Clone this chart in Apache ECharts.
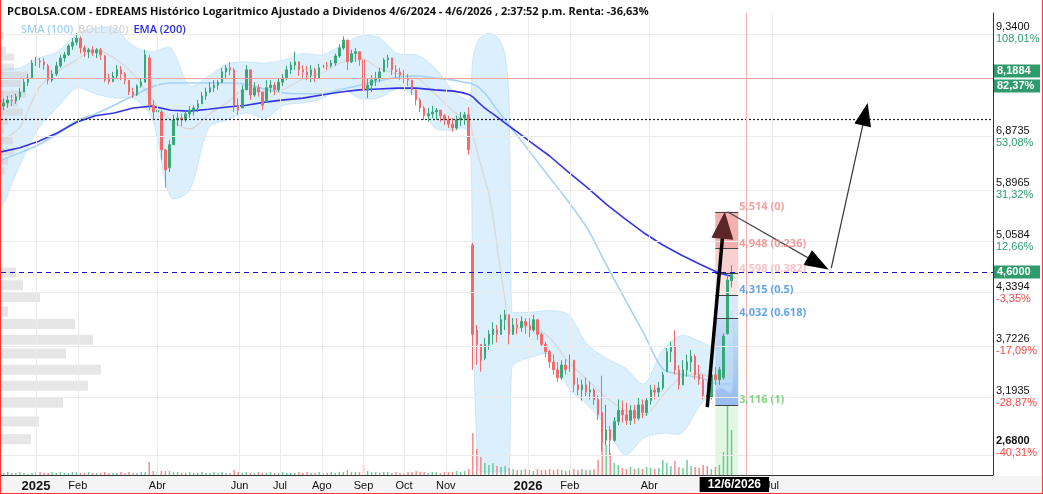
<!DOCTYPE html>
<html><head><meta charset="utf-8">
<script src="https://cdn.jsdelivr.net/npm/echarts@6/dist/echarts.min.js"></script>
<style>
html,body{margin:0;padding:0;background:#fff;}
#wrap{position:relative;width:1043px;height:494px;overflow:hidden;}
#c{position:absolute;left:0;top:0;width:1043px;height:494px;}
#frame{position:absolute;left:0;top:0;width:1043px;height:494px;box-sizing:border-box;border-left:1px solid #f33;border-right:1px solid #f33;border-bottom:1px solid #f33;pointer-events:none;}
</style></head><body>
<div id="wrap"><div id="c"></div><div id="frame"></div></div>
<script>
// ---------------- DATA ----------------
const titleText = 'PCBOLSA.COM - EDREAMS Histórico Logaritmico Ajustado a Dividenos 4/6/2024 - 4/6/2026 , 2:37:52 p.m. Renta: -36,63%';
const xAxisMinDate = '2024-12-06';
const xAxisMaxDate = '2026-12-12';
const yAxisMinPrice = 2.537;
const yAxisMaxPrice = 9.91;
const xTickDates = ['2025-01-01','2025-02-01','2025-04-01','2025-06-01','2025-07-01','2025-08-01','2025-09-01','2025-10-01','2025-11-01','2026-01-01','2026-02-01','2026-04-01','2026-07-01'];
const monthNames = ['Ene','Feb','Mar','Abr','May','Jun','Jul','Ago','Sep','Oct','Nov','Dic'];
const yTickPrices = [9.34, 6.8735, 5.8965, 5.0584, 4.3394, 3.7226, 3.1935, 2.68];
const yTickPct = ['108,01%','53,08%','31,32%','12,66%','-3,35%','-17,09%','-28,87%','-40,31%'];

// candles: [date, open, close, low, high]
const candles = [
['2024-12-08',7.53,7.60,7.44,7.71],['2024-12-11',7.60,7.67,7.49,7.76],['2024-12-14',7.67,7.65,7.53,7.78],['2024-12-17',7.65,7.74,7.58,7.81],
['2024-12-20',7.74,7.85,7.67,7.95],['2024-12-23',7.85,8.08,7.85,8.18],['2024-12-26',8.08,8.18,7.99,8.28],['2024-12-29',8.18,8.55,8.18,8.63],
['2025-01-01',8.55,8.60,8.48,8.71],['2025-01-04',8.60,8.58,8.43,8.68],['2025-01-07',8.58,8.50,8.38,8.68],['2025-01-10',8.48,8.13,8.03,8.53],
['2025-01-13',8.13,8.28,8.08,8.38],['2025-01-16',8.28,8.48,8.23,8.58],['2025-01-19',8.48,8.68,8.43,8.76],['2025-01-22',8.68,8.76,8.58,8.84],
['2025-01-25',8.76,8.99,8.73,9.04],['2025-01-28',8.99,9.09,8.89,9.20],['2025-01-31',9.09,9.20,9.01,9.34],['2025-02-03',9.20,8.94,8.79,9.25],
['2025-02-06',8.94,8.84,8.71,9.01],['2025-02-09',8.84,8.89,8.68,8.94],['2025-02-12',8.89,8.81,8.73,8.99],['2025-02-15',8.81,8.89,8.68,8.94],
['2025-02-18',8.89,8.76,8.63,8.94],['2025-02-21',8.73,8.13,8.08,8.76],['2025-02-24',8.18,8.10,8.03,8.28],['2025-02-27',8.10,8.23,8.08,8.33],
['2025-03-02',8.23,8.38,8.18,8.50],['2025-03-05',8.38,8.28,8.13,8.48],['2025-03-08',8.28,8.13,8.03,8.33],['2025-03-11',8.13,7.85,7.78,8.13],
['2025-03-14',7.85,7.78,7.71,7.95],['2025-03-17',7.78,7.99,7.76,8.03],['2025-03-20',7.99,8.08,7.95,8.18],['2025-03-23',8.08,8.76,8.08,8.89],
['2025-03-26',8.68,7.55,7.44,8.76],['2025-03-29',7.55,7.40,7.23,7.67],['2025-04-01',7.40,7.44,7.27,7.58],['2025-04-04',7.40,6.62,6.42,7.44],
['2025-04-07',6.62,6.24,5.92,6.62],['2025-04-10',6.28,6.72,6.20,6.81],['2025-04-13',6.72,7.23,6.72,7.34],['2025-04-16',7.23,7.27,7.10,7.38],
['2025-04-19',7.27,7.23,7.10,7.36],['2025-04-22',7.23,7.36,7.19,7.44],['2025-04-25',7.36,7.44,7.27,7.53],['2025-04-28',7.44,7.49,7.32,7.55],
['2025-05-01',7.49,7.58,7.40,7.67],['2025-05-04',7.58,7.76,7.58,7.85],['2025-05-07',7.76,7.85,7.67,7.95],['2025-05-10',7.85,7.95,7.83,8.08],
['2025-05-13',7.95,8.01,7.85,8.13],['2025-05-16',8.01,8.08,7.90,8.13],['2025-05-19',8.08,8.33,8.06,8.43],['2025-05-22',8.33,8.43,8.18,8.50],
['2025-05-25',8.43,8.38,8.25,8.58],['2025-05-28',8.38,7.55,7.40,8.43],['2025-05-31',7.55,7.44,7.34,7.71],['2025-06-03',7.49,7.90,7.49,8.01],
['2025-06-06',7.90,8.38,7.90,8.50],['2025-06-09',8.38,7.78,7.67,8.38],['2025-06-12',7.78,7.95,7.74,8.08],['2025-06-15',7.95,7.85,7.74,8.03],
['2025-06-18',7.85,7.55,7.44,7.85],['2025-06-21',7.62,7.95,7.62,8.13],['2025-06-24',7.95,8.01,7.83,8.13],['2025-06-27',8.01,7.90,7.78,8.08],
['2025-06-30',7.90,8.08,7.85,8.18],['2025-07-03',8.08,8.18,7.99,8.28],['2025-07-06',8.18,8.38,8.13,8.48],['2025-07-09',8.38,8.50,8.28,8.58],
['2025-07-12',8.50,8.58,8.38,8.84],['2025-07-15',8.58,8.38,8.23,8.58],['2025-07-18',8.38,8.33,8.18,8.50],['2025-07-21',8.33,8.25,8.13,8.48],
['2025-07-24',8.25,8.38,8.08,8.50],['2025-07-27',8.38,8.18,8.08,8.43],['2025-07-30',8.18,8.43,8.18,8.53],['2025-08-02',8.43,8.50,8.33,8.63],
['2025-08-05',8.50,8.48,8.38,8.58],['2025-08-08',8.48,8.55,8.43,8.63],['2025-08-11',8.55,8.73,8.48,8.79],['2025-08-14',8.73,8.94,8.68,9.04],
['2025-08-17',8.94,9.15,8.89,9.25],['2025-08-20',9.15,8.58,8.38,9.15],['2025-08-23',8.58,8.79,8.55,8.89],['2025-08-26',8.79,8.84,8.58,8.94],
['2025-08-29',8.84,8.63,8.48,8.84],['2025-09-01',8.63,7.90,7.62,8.68],['2025-09-04',7.90,8.01,7.71,8.18],['2025-09-07',8.01,8.13,7.85,8.25],
['2025-09-10',8.13,8.18,7.99,8.33],['2025-09-13',8.18,8.33,8.08,8.43],['2025-09-16',8.33,8.63,8.33,8.68],['2025-09-19',8.63,8.68,8.43,8.76],
['2025-09-22',8.68,8.38,8.25,8.68],['2025-09-25',8.38,8.33,8.18,8.50],['2025-09-28',8.33,8.25,8.13,8.43],['2025-10-01',8.25,8.18,8.06,8.38],
['2025-10-04',8.18,8.13,7.99,8.28],['2025-10-07',8.13,7.90,7.78,8.13],['2025-10-10',7.90,7.67,7.55,7.90],['2025-10-13',7.67,7.49,7.40,7.71],
['2025-10-16',7.49,7.32,7.23,7.53],['2025-10-19',7.32,7.36,7.19,7.49],['2025-10-22',7.36,7.40,7.27,7.53],['2025-10-25',7.40,7.44,7.23,7.49],
['2025-10-28',7.44,7.32,7.19,7.44],['2025-10-31',7.32,7.23,7.12,7.36],['2025-11-03',7.23,7.14,7.06,7.32],['2025-11-06',7.14,7.06,6.98,7.27],
['2025-11-09',7.06,7.23,7.02,7.32],['2025-11-12',7.23,7.27,7.10,7.40],['2025-11-15',7.27,7.34,7.12,7.40],['2025-11-18',7.34,6.62,6.52,7.51],
['2025-11-21',5.00,3.84,3.46,5.03],['2025-11-24',3.89,3.73,3.51,3.95],['2025-11-27',3.73,3.56,3.44,3.73],['2025-11-30',3.58,3.73,3.56,3.80],
['2025-12-03',3.73,3.84,3.67,3.89],['2025-12-06',3.84,3.90,3.73,3.98],['2025-12-09',3.90,3.84,3.75,3.95],['2025-12-12',3.84,4.01,3.84,4.07],
['2025-12-15',4.01,4.07,3.89,4.13],['2025-12-18',4.07,3.84,3.73,4.07],['2025-12-21',3.84,3.95,3.84,4.03],['2025-12-24',3.95,3.92,3.84,4.03],
['2025-12-27',3.92,3.99,3.87,4.05],['2025-12-30',3.99,3.94,3.85,4.03],['2026-01-02',3.94,3.89,3.81,4.03],['2026-01-05',3.89,4.01,3.87,4.07],
['2026-01-08',4.01,3.84,3.78,4.01],['2026-01-11',3.84,3.73,3.70,3.86],['2026-01-14',3.73,3.65,3.59,3.76],['2026-01-17',3.65,3.54,3.48,3.67],
['2026-01-20',3.54,3.46,3.41,3.62],['2026-01-23',3.46,3.38,3.34,3.54],['2026-01-26',3.38,3.51,3.36,3.56],['2026-01-29',3.51,3.46,3.41,3.57],
['2026-02-01',3.46,3.56,3.44,3.62],['2026-02-04',3.56,3.31,3.24,3.56],['2026-02-07',3.31,3.26,3.21,3.38],['2026-02-10',3.26,3.31,3.16,3.36],
['2026-02-13',3.31,3.24,3.20,3.38],['2026-02-16',3.24,3.26,3.17,3.34],['2026-02-19',3.26,3.17,3.12,3.28],['2026-02-22',3.17,3.03,2.98,3.21],
['2026-02-25',3.05,2.80,2.72,3.40],['2026-02-28',2.81,2.90,2.77,3.12],['2026-03-03',2.90,2.81,2.68,2.93],['2026-03-06',2.81,2.97,2.80,3.01],
['2026-03-09',2.97,3.07,2.94,3.17],['2026-03-12',3.07,3.03,2.96,3.16],['2026-03-15',3.03,2.98,2.94,3.14],['2026-03-18',2.98,3.07,2.94,3.12],
['2026-03-21',3.07,3.00,2.95,3.12],['2026-03-24',3.00,3.12,2.98,3.19],['2026-03-27',3.12,3.05,3.00,3.17],['2026-03-30',3.05,3.16,3.02,3.19],
['2026-04-02',3.16,3.26,3.12,3.31],['2026-04-05',3.26,3.24,3.17,3.31],['2026-04-08',3.24,3.28,3.19,3.34],['2026-04-11',3.28,3.41,3.26,3.44],
['2026-04-14',3.44,3.65,3.44,3.69],['2026-04-17',3.65,3.71,3.54,3.76],['2026-04-20',3.71,3.46,3.41,3.89],['2026-04-23',3.46,3.31,3.26,3.51],
['2026-04-26',3.31,3.46,3.31,3.56],['2026-04-29',3.46,3.54,3.39,3.62],['2026-05-02',3.54,3.60,3.44,3.67],['2026-05-05',3.60,3.41,3.36,3.62],
['2026-05-08',3.41,3.36,3.31,3.51],['2026-05-11',3.36,3.21,3.17,3.41],['2026-05-14',3.21,3.19,3.12,3.34],['2026-05-17',3.19,3.41,3.17,3.49],
['2026-05-20',3.41,3.36,3.31,3.49],['2026-05-23',3.36,3.46,3.31,3.49],['2026-05-26',3.38,3.82,3.36,3.85],['2026-05-29',3.85,4.51,3.84,4.58],
['2026-06-01',4.50,4.60,4.41,4.71]
];
const volumes = [2,3,2,2,3,2,1,2,3,3, 2,2,3,2,3,2,2,3,3,2, 2,3,2,2,2,3,2,2,2,3, 2,3,2,2,3,
 3,13,4,3,4,4,4,3,3,2, 2,3,2,2,3,2,2,3,2,3, 2,2,
 5,
 3,2,3,2,2,3,2,2,3,2, 2,3,2,2,2,3,2,3,2,2, 3,2,2,3,2,3,3,
 5,3,3,3,10,
 4,3,3,2,3,3,2,3,2,2, 3,3,4,3,3,2,3,3,2,3, 3,3,4,3,4,
 6,42,26,18,12,10,12,9,8,9,7,
 6,5,5,6,5,4,6,5,5,6, 5,6,5,4,5,6,5,6,5,5,6,
 15,42,30,22,12,10,
 7,6,8,6,7,6,8,7,6,7,
 15,12,9,14,
 8,7,15,9,8,7,10,9,6,8,10,
 23,70,45];

const indDates = ['2024-12-06','2024-12-20','2025-01-03','2025-01-17','2025-01-31','2025-02-14','2025-02-28','2025-03-14','2025-03-28','2025-04-11',
 '2025-04-25','2025-05-09','2025-05-23','2025-06-06','2025-06-20','2025-07-04','2025-07-18','2025-08-01','2025-08-15','2025-08-29',
 '2025-09-12','2025-09-26','2025-10-10','2025-10-24','2025-11-07','2025-11-14','2025-11-19','2025-11-21','2025-11-25','2025-11-29',
 '2025-12-03','2025-12-07','2025-12-11','2025-12-15','2025-12-18','2025-12-20','2025-12-24','2026-01-03','2026-01-17','2026-01-31',
 '2026-02-14','2026-02-28','2026-03-14','2026-03-28','2026-04-11','2026-04-25','2026-05-09','2026-05-23','2026-06-01'];
const ema200 = [6.58,6.66,6.79,6.96,7.18,7.32,7.38,7.49,7.53,7.44, 7.42,7.46,7.51,7.55,7.62,7.67,7.71,7.78,7.85,7.90,
 7.92,7.94,7.94,7.90,7.87,7.83,7.78,7.74,7.62,7.51, 7.42,7.34,7.25,7.16,7.10,7.06,6.98,6.77,6.50,6.20,
 5.92,5.64,5.40,5.18,5.00,4.85,4.72,4.60,4.56];
const sma100 = [6.42,6.56,6.72,6.94,7.21,7.36,7.55,7.76,7.97,8.06, 8.06,8.06,8.06,8.03,7.92,7.83,7.81,7.81,7.90,8.01,
 8.11,8.20,8.23,8.18,8.13,8.08,8.06,8.03,7.97,7.85, 7.71,7.53,7.38,7.23,7.12,7.04,6.90,6.56,6.10,5.68,
 5.25,4.72,4.26,3.85,3.47,3.41,3.38,3.32,3.32];
const bollUpper = [8.33,8.43,8.68,8.84,9.31,9.48,9.48,8.99,8.84,8.94, 7.99,8.23,8.53,8.58,8.55,8.63,8.79,8.76,8.99,9.25,
 9.23,8.79,8.76,8.43,7.85,7.71,7.67,8.63,9.15,9.28, 9.34,9.28,9.15,8.76,7.67,4.10,4.10,4.10,4.12,4.07,
 3.73,3.58,3.48,3.32,3.67,3.83,3.76,3.69,4.11];
const bollMid = [6.81,7.08,7.94,8.33,8.63,8.89,8.68,8.28,7.69,7.23, 7.04,7.34,7.62,7.92,7.87,7.92,8.16,8.30,8.55,8.68,
 8.43,8.28,8.20,7.81,7.40,7.32,7.18,6.92,6.52,6.15, 5.80,5.30,4.71,4.25,3.89,3.89,3.91,3.93,3.80,3.54,
 3.36,3.19,3.07,3.03,3.21,3.39,3.42,3.34,3.51];
const bollLower = [5.63,6.33,7.06,7.51,7.94,7.81,7.71,7.71,7.27,5.75, 5.88,7.06,7.23,7.38,7.27,7.55,7.60,7.69,7.94,7.71,
 7.71,7.92,7.76,7.06,7.02,7.06,6.92,4.25,2.58,2.56, 2.56,2.56,2.56,2.56,2.58,3.48,3.54,3.59,3.62,3.28,
 3.12,2.93,2.69,2.83,2.87,2.87,3.12,3.28,3.24];

const profilePrices = [9.28,8.88,8.70,8.45,8.25,8.05,7.80,7.60,7.40,7.20,7.02,6.80,6.58,6.40,6.22, 4.61,4.44,4.29,4.11,3.96,3.78,3.63,3.46,3.30,3.14,2.97,2.82];
const profileVolumes = [3,5,13,13,27,20,25,17,22,7,3,12,13,7,4, 15,22,39,7,74,92,65,100,87,62,38,30];

const fibLevels = [5.514, 4.948, 4.598, 4.315, 4.032, 3.116];
const fibRatios = ['0','0.236','0.382','0.5','0.618','1'];
const fibStartDate = '2026-05-20';
const fibEndDate = '2026-06-06';

const lastPrice = 4.60;
const crossPrice = 8.1884;
const crossPct = '82,37%';
const crossDate = '2026-06-12';
const crossDateLabel = '12/6/2026';
const dottedLevel = 7.25;

const arrows = [
  {from:['2026-05-14',3.10], to:['2026-05-27',5.514]},
  {from:['2026-05-29',5.514], to:['2026-08-12',4.65]},
  {from:['2026-08-14',4.67], to:['2026-09-10',7.60]}
];

// ---------------- HELPERS ----------------
const t = s => { const [y,m,d] = s.split('-').map(Number); return new Date(y, m-1, d).getTime(); };
const L = Math.log;
const fmt = (v, n) => v.toFixed(n).replace('.', ',');
const UP = '#38a878', DOWN = '#f26b6b';
const FONT = 'Liberation Sans, Arial, sans-serif';
const TFONT = 'Open Sans, Liberation Sans, sans-serif';

const xMin = t(xAxisMinDate), xMax = t(xAxisMaxDate);
const yMin = L(yAxisMinPrice), yMax = L(yAxisMaxPrice);

const candleData = candles.map(c => [t(c[0]), L(c[1]), L(c[2]), L(c[3]), L(c[4])]);
const volData = candles.map((c, i) => ({value:[t(c[0]), volumes[i]], itemStyle:{color: c[2] >= c[1] ? 'rgba(60,190,120,0.75)' : 'rgba(245,100,100,0.75)'}}));
const ind = arr => indDates.map((d, i) => [t(d), L(arr[i])]);
const bandData = indDates.map((d, i) => [t(d), L(bollUpper[i]), L(bollLower[i])]);

const pctColor = s => s.charAt(0) === '-' ? 'neg' : 'pos';
const yLabelFormatter = v => {
  let i = 0, best = 1e9;
  yTickPrices.forEach((p, k) => { const d = Math.abs(L(p) - v); if (d < best) { best = d; i = k; } });
  const price = fmt(yTickPrices[i], 4);
  if (i === yTickPrices.length - 1) return '{pb|' + price + '}\n{' + pctColor(yTickPct[i]) + '|' + yTickPct[i] + '}\n{sp| }';
  return '{p|' + price + '}\n{' + pctColor(yTickPct[i]) + '|' + yTickPct[i] + '}';
};

const gridLineData = yTickPrices.map(p => ({yAxis: L(p)})).concat(xTickDates.map(d => ({xAxis: t(d)})));

const fibFill = ['#f2b0b0', '#f9d0d0', '#fbe3e3', '#dbe8f8', null];
const fibAreas = [];
for (let i = 0; i < fibLevels.length - 1; i++) {
  let color = fibFill[i];
  if (i === 4) color = new echarts.graphic.LinearGradient(0, 0, 0, 1, [{offset:0, color:'#c9dcf6'},{offset:1, color:'#98bcef'}]);
  fibAreas.push([{coord:[t(fibStartDate), L(fibLevels[i])], itemStyle:{color: color}}, {coord:[t(fibEndDate), L(fibLevels[i+1])]}]);
}
fibAreas.push([{coord:[t(fibStartDate), L(fibLevels[fibLevels.length-1])], itemStyle:{color:'#e2f7e2'}}, {coord:[t(fibEndDate), yMin]}]);
const fibLines = fibLevels.map(l => [{coord:[t(fibStartDate), L(l)]}, {coord:[t(fibEndDate), L(l)]}]);
const fibLabelColors = ['#f08a8a','#ee8484','#f5b3b3','#3c8fe3','#3c8fe3','#62cc62'];
const fibLabelData = fibLevels.map((l, i) => ({
  value:[t(fibEndDate), L(l)],
  label:{formatter: fmt(l, 3) + ' (' + fibRatios[i] + ')', color: fibLabelColors[i]}
}));

const arrowStyles = [
  {line:'#000', width:3.5, head:'#5a2626', hl:27, hw:22},
  {line:'#4a4a4a', width:1.3, head:'#000', hl:24, hw:17},
  {line:'#333', width:1.2, head:'#000', hl:23, hw:17}
];
const arrowData = arrows.map(a => [t(a.from[0]), L(a.from[1]), t(a.to[0]), L(a.to[1])]);

const profileData = profilePrices.map((p, i) => [profileVolumes[i], L(p)]);

// ---------------- CHART ----------------
const chart = echarts.init(document.getElementById('c'), null, {renderer:'canvas'});
const gridBase = {left:1, right:50, containLabel:false, outerBoundsMode:'none'};

chart.setOption({
  animation:false,
  backgroundColor:'#fff',
  textStyle:{fontFamily:FONT},
  title:[
    {text:titleText, left:2, top:1, textStyle:{fontFamily:TFONT, fontSize:11, fontWeight:'bold', color:'#111'}},
    {text:'{a|SMA (100)} {b|BOLL (20)} {c|EMA (200)}', left:16, top:16,
     textStyle:{rich:{
       a:{color:'#a3d2f8', fontSize:11, fontWeight:600, fontFamily:TFONT},
       b:{color:'#d6d6d6', fontSize:11, fontWeight:600, fontFamily:TFONT},
       c:{color:'#2b2be0', fontSize:11, fontWeight:600, fontFamily:TFONT}}}}
  ],
  graphic:[{type:'rect', left:0, bottom:0, z:-10, shape:{width:1043, height:18}, style:{fill:'#f4f4f4'}}],
  grid:[
    Object.assign({top:13, bottom:19}, gridBase),
    Object.assign({top:375, bottom:19}, gridBase),
    Object.assign({top:13, bottom:19}, gridBase)
  ],
  xAxis:[
    {type:'value', gridIndex:0, min:xMin, max:xMax,
     axisLine:{show:true, onZero:false, lineStyle:{color:'#333', width:1}}, axisTick:{show:false}, splitLine:{show:false},
     axisLabel:{customValues:xTickDates.map(t), margin:5, hideOverlap:false,
       formatter: v => { const d = new Date(v); return d.getMonth() === 0 ? '{y|' + d.getFullYear() + '}' : '{m|' + monthNames[d.getMonth()] + '}'; },
       rich:{y:{fontSize:13, fontWeight:'bold', color:'#111', fontFamily:FONT}, m:{fontSize:11, color:'#111', fontFamily:FONT}}}},
    {type:'value', gridIndex:1, min:xMin, max:xMax, show:false},
    {type:'value', gridIndex:2, min:0, max:992, show:false}
  ],
  yAxis:[
    {type:'value', gridIndex:0, position:'right', min:yMin, max:yMax,
     axisLine:{show:true, onZero:false, lineStyle:{color:'#333'}}, axisTick:{show:false}, splitLine:{show:false},
     axisLabel:{customValues:yTickPrices.map(L), margin:3, align:'left', formatter:yLabelFormatter,
       rich:{p:{fontSize:11, color:'#111', lineHeight:12, fontFamily:FONT},
             pb:{fontSize:11, color:'#111', fontWeight:'bold', lineHeight:12, fontFamily:FONT},
             pos:{fontSize:11, color:'#2e9d6d', lineHeight:12, fontFamily:FONT},
             neg:{fontSize:11, color:'#f24a4a', lineHeight:12, fontFamily:FONT},
             sp:{fontSize:1, lineHeight:18}}}},
    {type:'value', gridIndex:1, min:0, max:100, show:false},
    {type:'value', gridIndex:2, min:yMin, max:yMax, show:false}
  ],
  series:[
    {type:'line', xAxisIndex:0, yAxisIndex:0, data:[[xMin, yMin]], showSymbol:false, lineStyle:{opacity:0}, silent:true, z:0,
     markLine:{silent:true, symbol:['none','none'], label:{show:false}, lineStyle:{color:'#ebebeb', width:1, type:'solid'}, data:gridLineData}},
    {type:'custom', xAxisIndex:0, yAxisIndex:0, data:bandData, encode:{x:0, y:[1,2]}, z:1, silent:true, clip:true,
     renderItem:(params, api) => {
       if (params.dataIndex !== 0) return null;
       const up = bandData.map(d => api.coord([d[0], d[1]]));
       const lo = bandData.map(d => api.coord([d[0], d[2]])).reverse();
       return {type:'polygon', shape:{points:up.concat(lo), smooth:0.3}, style:{fill:'rgba(196,228,250,0.6)', stroke:'rgba(170,215,245,0.5)', lineWidth:1}};
     }},
    {type:'custom', xAxisIndex:2, yAxisIndex:2, data:profileData, z:1, silent:true, clip:true,
     encode:{x:0, y:1},
     renderItem:(params, api) => {
       const w = api.value(0), v = api.value(1);
       const p0 = api.coord([0, v]), p1 = api.coord([w, v]);
       const h = Math.exp(v) < 5 ? 10 : 7;
       return {type:'rect', shape:{x:p0[0], y:p0[1]-h/2, width:p1[0]-p0[0], height:h}, style:{fill:'rgba(205,205,205,0.5)'}};
     }},
    {type:'line', xAxisIndex:0, yAxisIndex:0, data:[[xMin, yMin]], showSymbol:false, lineStyle:{opacity:0}, silent:true, z:1,
     markArea:{silent:true, data:fibAreas},
     markLine:{silent:true, symbol:['none','none'], label:{show:false}, lineStyle:{color:'#444', width:1, type:'solid'}, data:fibLines}},
    {type:'line', xAxisIndex:0, yAxisIndex:0, data:ind(bollMid), showSymbol:false, smooth:0.3, lineStyle:{color:'#d8d8d8', width:1.3}, silent:true, z:2},
    {type:'line', xAxisIndex:0, yAxisIndex:0, data:ind(sma100), showSymbol:false, smooth:0.3, lineStyle:{color:'#a5d3f7', width:1.6}, silent:true, z:2},
    {type:'line', xAxisIndex:0, yAxisIndex:0, data:ind(ema200), showSymbol:false, lineStyle:{color:'#3434e6', width:1.6}, silent:true, z:2},
    {type:'line', xAxisIndex:0, yAxisIndex:0, data:[[xMin, yMin]], showSymbol:false, lineStyle:{opacity:0}, silent:true, z:3,
     markLine:{silent:true, symbol:['none','none'], data:[
       {yAxis:L(dottedLevel), lineStyle:{color:'#222', width:1.2, type:[2,2]}, label:{show:false}},
       {yAxis:L(crossPrice), lineStyle:{color:'#f6a3a3', width:1.2, type:'solid'},
        label:{show:true, position:'end', distance:1, formatter:'{b|' + fmt(crossPrice, 4) + '}\n{b|' + crossPct + '}',
          rich:{b:{backgroundColor:'#2f9b6c', color:'#fff', fontSize:11, fontWeight:'bold', fontFamily:FONT, padding:[1,3,1,3], lineHeight:15, width:40}}}},
       {yAxis:L(lastPrice), lineStyle:{color:'#1212cc', width:1.2, type:[5,4]},
        label:{show:true, position:'end', distance:1, formatter:'{b|' + fmt(lastPrice, 4) + '}',
          rich:{b:{backgroundColor:'#2f9b6c', color:'#fff', fontSize:11, fontWeight:'bold', fontFamily:FONT, padding:[1,3,1,3], lineHeight:14, width:40}}}},
       {xAxis:t(crossDate), lineStyle:{color:'#f6b0b0', width:1, type:'solid'},
        label:{show:true, position:'start', distance:2, offset:[-12,0], formatter:crossDateLabel, backgroundColor:'#000', color:'#fff',
          fontSize:12, fontWeight:'bold', fontFamily:FONT, padding:[2,8,1,8]}}
     ]}},
    {type:'candlestick', xAxisIndex:0, yAxisIndex:0, data:candleData, encode:{x:0, y:[1,2,3,4]}, barWidth:2, z:4, silent:true,
     itemStyle:{color:UP, color0:DOWN, borderColor:UP, borderColor0:DOWN, borderWidth:1}},
    {type:'bar', xAxisIndex:1, yAxisIndex:1, data:volData, barWidth:1.5, z:4, silent:true},
    {type:'custom', xAxisIndex:0, yAxisIndex:0, data:arrowData, encode:{x:[0,2], y:[1,3]}, z:6, silent:true, clip:false,
     renderItem:(params, api) => {
       const st = arrowStyles[params.dataIndex];
       const p1 = api.coord([api.value(0), api.value(1)]);
       const p2 = api.coord([api.value(2), api.value(3)]);
       const dx = p2[0]-p1[0], dy = p2[1]-p1[1], len = Math.hypot(dx, dy);
       const ux = dx/len, uy = dy/len, nx = -uy, ny = ux;
       const bx = p2[0]-ux*st.hl, by = p2[1]-uy*st.hl;
       return {type:'group', children:[
         {type:'line', shape:{x1:p1[0], y1:p1[1], x2:bx+ux*3, y2:by+uy*3}, style:{stroke:st.line, lineWidth:st.width}},
         {type:'polygon', shape:{points:[[p2[0],p2[1]],[bx+nx*st.hw/2, by+ny*st.hw/2],[bx-nx*st.hw/2, by-ny*st.hw/2]]}, style:{fill:st.head}}
       ]};
     }},
    {type:'scatter', xAxisIndex:0, yAxisIndex:0, data:fibLabelData, symbolSize:0, z:6, silent:true,
     label:{show:true, position:'right', distance:1, offset:[0,-5], fontSize:11, fontWeight:'bold', fontFamily:TFONT}}
  ]
});
</script></body></html>
